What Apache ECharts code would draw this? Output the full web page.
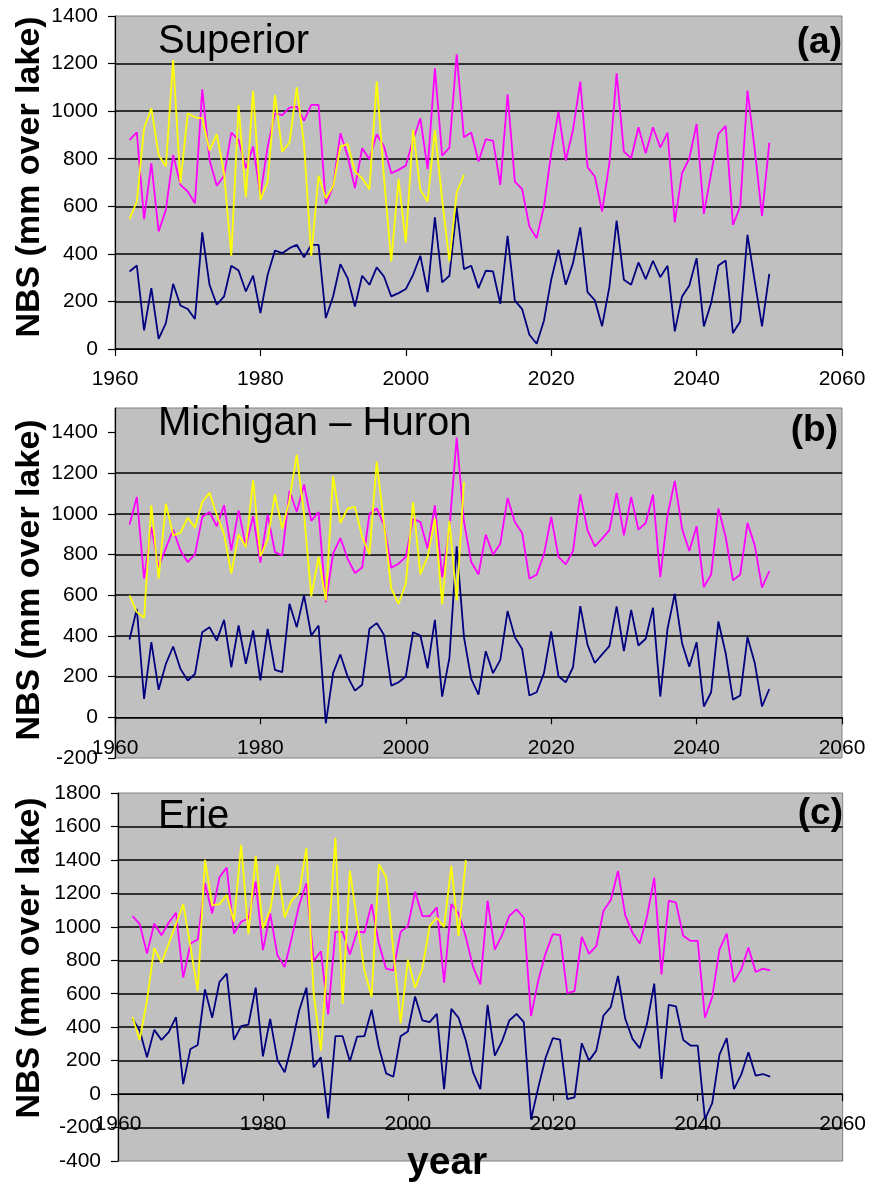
<!DOCTYPE html>
<html>
<head>
<meta charset="utf-8">
<script src="https://cdn.jsdelivr.net/npm/echarts@6/dist/echarts.min.js"></script>
<style>
html,body{margin:0;padding:0;background:#fff;}
#chart{width:869px;height:1184px;}
</style>
</head>
<body>
<div id="chart"></div>
<script>
// ---------- DATA ----------
const years = [1962,1963,1964,1965,1966,1967,1968,1969,1970,1971,1972,1973,1974,1975,1976,1977,1978,1979,1980,1981,
1982,1983,1984,1985,1986,1987,1988,1989,1990,1991,1992,1993,1994,1995,1996,1997,1998,1999,2000,2001,
2002,2003,2004,2005,2006,2007,2008,2009,2010,2011,2012,2013,2014,2015,2016,2017,2018,2019,2020,2021,
2022,2023,2024,2025,2026,2027,2028,2029,2030,2031,2032,2033,2034,2035,2036,2037,2038,2039,2040,2041,
2042,2043,2044,2045,2046,2047,2048,2049,2050];
const obsYears = [1962,1963,1964,1965,1966,1967,1968,1969,1970,1971,1972,1973,1974,1975,1976,1977,1978,1979,1980,1981,
1982,1983,1984,1985,1986,1987,1988,1989,1990,1991,1992,1993,1994,1995,1996,1997,1998,1999,2000,2001,
2002,2003,2004,2005,2006,2007,2008];

const superiorBase = [879,911,546,781,494,585,816,690,662,613,1092,795,686,728,910,879,760,851,648,851,
991,983,1015,1019,960,1026,1026,610,683,907,812,676,844,798,903,851,739,753,771,879,
970,756,1180,813,847,1239,890,910,788,882,875,690,1071,704,672,515,466,599,823,998,
792,921,1124,764,725,578,780,1159,830,802,932,823,932,847,910,532,739,802,946,568,
739,903,938,522,599,1086,837,560,868];
const superiorScen = [326,351,78,256,43,109,274,183,168,126,490,270,186,221,350,330,242,308,151,312,
414,403,424,438,385,438,438,130,221,357,298,179,308,270,343,305,221,235,252,312,
392,239,554,280,308,592,336,350,256,329,326,190,476,203,168,60,22,119,291,417,
270,361,511,239,205,96,260,540,291,270,364,294,371,302,350,74,221,267,382,95,
193,351,372,67,116,480,284,95,316];
const superiorObs = [546,620,928,1012,816,767,1215,697,991,974,970,834,903,740,392,1026,638,1086,627,704,
1068,830,868,1100,860,392,728,634,683,851,862,746,718,672,1124,720,368,714,448,921,
669,620,921,627,368,658,732];

const michiganBase = [947,1083,681,935,738,832,922,820,763,801,985,1009,939,1042,820,1017,840,988,760,996,
812,796,1113,1009,1144,965,1009,566,804,881,779,709,736,1000,1026,944,735,755,788,976,
960,829,1042,689,927,1375,960,763,702,898,799,853,1078,960,906,681,701,801,985,788,
752,817,1095,919,840,878,920,1103,894,1083,922,955,1095,689,993,1162,927,817,939,640,
702,1026,886,673,702,955,845,637,719];
const michiganScen = [382,533,90,369,135,263,348,238,181,213,418,443,377,479,246,451,263,427,181,435,
233,222,558,443,599,402,451,-30,217,309,200,131,160,435,463,405,156,172,200,418,
402,241,479,102,292,840,394,189,112,325,217,282,522,394,336,107,123,217,422,202,
172,246,546,356,267,309,350,545,325,528,353,386,538,102,435,607,364,249,369,53,
123,471,315,87,107,394,267,53,139];
const michiganObs = [599,517,489,1042,681,1050,894,906,981,932,1058,1103,995,900,706,899,837,1165,791,873,
1096,927,1067,1291,1000,594,788,574,1185,955,1026,1034,886,801,1255,952,632,558,656,1058,
702,788,976,555,965,574,1157];

const erieBase = [1064,1016,840,1020,950,1024,1084,696,900,924,1260,1080,1296,1354,960,1030,1050,1270,860,1080,
830,760,940,1130,1260,796,854,476,970,970,834,974,966,1136,900,750,740,970,1004,1210,
1064,1064,1116,666,1136,1080,940,760,656,1156,864,950,1066,1104,1054,466,680,840,956,950,
604,616,940,838,884,1096,1160,1334,1070,964,900,1060,1294,716,1156,1144,946,916,916,456,
580,864,960,670,744,876,730,750,740];
const erieScen = [450,380,220,384,324,370,460,60,270,294,626,456,670,720,324,406,416,636,226,450,
204,130,300,500,636,160,220,-146,346,346,196,344,346,504,280,124,104,346,374,584,
440,430,480,30,510,456,320,130,30,534,230,316,440,480,430,-150,40,216,334,326,
-30,-20,304,200,260,470,520,706,450,330,274,420,660,90,534,524,324,290,290,-150,
-54,236,334,30,116,250,110,120,104];
const erieObs = [460,324,560,874,784,900,1016,1136,880,616,1400,1130,1136,1190,1030,1490,956,1424,990,1100,
1370,1056,1160,1204,1470,600,260,880,1530,540,1336,1036,740,580,1374,1296,860,424,804,636,
750,1004,1054,1000,1364,946,1400];

const lakeNames = ['Superior', 'Michigan \u2013 Huron', 'Erie'];
const panelTags = ['(a)', '(b)', '(c)'];
const yLabel = 'NBS (mm over lake)';
const xLabel = 'year';
const xTicks = [1960, 1980, 2000, 2020, 2040, 2060];
const yTicksA = [0,200,400,600,800,1000,1200,1400];
const yTicksB = [-200,0,200,400,600,800,1000,1200,1400];
const yTicksC = [-400,-200,0,200,400,600,800,1000,1200,1400,1600,1800];

// ---------- CHART ----------
const FONT = '"Liberation Sans", Arial, sans-serif';
const pairs = (xs, ys) => ys.map((v, i) => [xs[i], v]);
const plain = v => String(v);

const grids = [
  {left: 115, top: 16, width: 727, height: 333},
  {left: 115, top: 408, width: 727, height: 350},
  {left: 118, top: 793, width: 728, height: 368}
].map(g => Object.assign(g, {show: true, backgroundColor: '#c0c0c0', borderColor: '#808080', borderWidth: 1, containLabel: false}));

const yRanges = [
  {min: 0, max: 1400, ticks: yTicksA},
  {min: -200, max: 1520, ticks: yTicksB},
  {min: -400, max: 1800, ticks: yTicksC}
];

// distance (px) from the grid bottom up to the value-0 line, so the x axis sits on zero
const zeroOffset = (g, r) => -(0 - r.min) / (r.max - r.min) * g.height;

const xAxes = grids.map((g, i) => ({
  type: 'value', gridIndex: i, min: xTicks[0], max: xTicks[xTicks.length - 1], interval: 20,
  offset: zeroOffset(g, yRanges[i]),
  axisLine: {show: true, onZero: false, lineStyle: {color: '#000', width: 1.2}},
  axisTick: {show: true, length: 7, lineStyle: {color: '#000', width: 1.2}},
  axisLabel: {show: true, fontFamily: FONT, fontSize: 21, color: '#000', margin: 20, formatter: plain},
  splitLine: {show: false}
}));

const yAxes = yRanges.map((r, i) => ({
  type: 'value', gridIndex: i, min: r.min, max: r.max, interval: 200,
  axisLine: {show: true, onZero: false, lineStyle: {color: '#000', width: 1.2}},
  axisTick: {show: true, length: 7, lineStyle: {color: '#000', width: 1.2}, customValues: r.ticks},
  axisLabel: {show: true, fontFamily: FONT, fontSize: 21, color: '#000', margin: 17, customValues: r.ticks, formatter: plain},
  splitLine: {show: true, showMaxLine: false, showMinLine: i === 0, lineStyle: {color: '#000', width: 1.5}}
}));

const lakes = [
  {base: superiorBase, scen: superiorScen, obs: superiorObs},
  {base: michiganBase, scen: michiganScen, obs: michiganObs},
  {base: erieBase, scen: erieScen, obs: erieObs}
];

const series = [];
lakes.forEach((lk, i) => {
  series.push({name: lakeNames[i] + ' base', type: 'line', xAxisIndex: i, yAxisIndex: i, data: pairs(years, lk.base),
    showSymbol: false, lineStyle: {color: '#ff00ff', width: 1.8}, itemStyle: {color: '#ff00ff'}, z: 3, animation: false});
  series.push({name: lakeNames[i] + ' scenario', type: 'line', xAxisIndex: i, yAxisIndex: i, data: pairs(years, lk.scen),
    showSymbol: false, lineStyle: {color: '#000080', width: 1.8}, itemStyle: {color: '#000080'}, z: 4, animation: false});
  series.push({name: lakeNames[i] + ' observed', type: 'line', xAxisIndex: i, yAxisIndex: i, data: pairs(obsYears, lk.obs),
    showSymbol: false, lineStyle: {color: '#ffff00', width: 1.8}, itemStyle: {color: '#ffff00'}, z: 5, animation: false});
});

const titleSpots = [
  {name: {x: 158, y: 42}, tag: {x: 842, y: 43}, ylab: 177},
  {name: {x: 158, y: 424}, tag: {x: 838, y: 431}, ylab: 580},
  {name: {x: 158, y: 817}, tag: {x: 843, y: 814}, ylab: 958}
];
const graphics = [];
titleSpots.forEach((s, i) => {
  graphics.push({type: 'text', x: s.name.x, y: s.name.y, z: 100,
    style: {text: lakeNames[i], font: '40px ' + FONT, fill: '#000', align: 'left', verticalAlign: 'middle'}});
  graphics.push({type: 'text', x: s.tag.x, y: s.tag.y, z: 100,
    style: {text: panelTags[i], font: 'bold 37px ' + FONT, fill: '#000', align: 'right', verticalAlign: 'middle'}});
  graphics.push({type: 'text', x: 30, y: s.ylab, rotation: Math.PI / 2, z: 100,
    style: {text: yLabel, font: 'bold 34px ' + FONT, fill: '#000', align: 'center', verticalAlign: 'middle'}});
});
graphics.push({type: 'text', x: 407, y: 1163, z: 100,
  style: {text: xLabel, font: 'bold 39px ' + FONT, fill: '#000', align: 'left', verticalAlign: 'middle'}});

const chart = echarts.init(document.getElementById('chart'), null, {renderer: 'canvas'});
chart.setOption({
  animation: false,
  backgroundColor: '#ffffff',
  grid: grids,
  xAxis: xAxes,
  yAxis: yAxes,
  series: series,
  graphic: graphics
});
</script>
</body>
</html>
